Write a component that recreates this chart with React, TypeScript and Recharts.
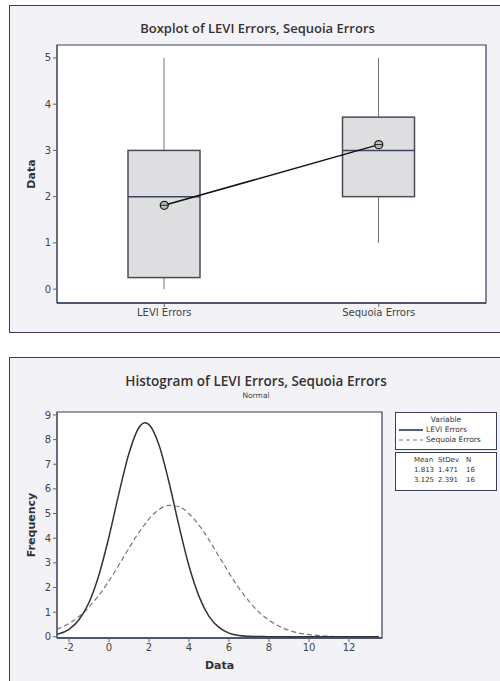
import React from "react";
import {
  Bar,
  ComposedChart,
  Line,
  LineChart,
  ReferenceArea,
  XAxis,
  YAxis,
  CartesianGrid,
} from "recharts";

// boxplot summary
const groups = ["LEVI Errors", "Sequoia Errors"];
const whiskerLow = [0, 1];
const q1 = [0.25, 2];
const median = [2, 3];
const q3 = [3, 3.72];
const whiskerHigh = [5, 5];
const means = [1.813, 3.125];

// fitted normal curves (frequency)
const curveX = [
  -2.6, -2.5, -2, -1.5, -1, -0.5, 0, 0.5, 1, 1.5, 1.8, 2, 2.5, 3, 3.5, 4, 4.5, 5, 5.5, 6, 6.5, 7, 7.5, 8,
  8.5, 9, 9.5, 10, 10.5, 11, 11.5, 12, 12.5, 13, 13.5,
];
const leviFit = [
  0.1, 0.12, 0.3, 0.69, 1.39, 2.52, 4.06, 5.83, 7.45, 8.49, 8.68, 8.61, 7.78, 6.27, 4.5, 2.87, 1.64, 0.83,
  0.38, 0.15, 0.05, 0.02, 0.01, 0, 0, 0, 0, 0, 0, 0, 0, 0, 0, 0, 0,
];
const sequoiaFit = [
  0.3, 0.34, 0.54, 0.82, 1.21, 1.69, 2.27, 2.92, 3.6, 4.24, 4.57, 4.78, 5.16, 5.33, 5.28, 4.99, 4.53, 3.93,
  3.26, 2.59, 1.97, 1.44, 1.0, 0.67, 0.43, 0.26, 0.15, 0.09, 0.05, 0.02, 0.01, 0.01, 0, 0, 0,
];
const stats = [
  { name: "LEVI Errors", mean: "1.813", sd: "1.471", n: "16" },
  { name: "Sequoia Errors", mean: "3.125", sd: "2.391", n: "16" },
];

const boxData = groups.map((name, i) => ({
  name,
  range: [whiskerLow[i], whiskerHigh[i]],
  q1: q1[i],
  median: median[i],
  q3: q3[i],
  mean: means[i],
}));

const fitData = curveX.map((x, i) => ({ x, levi: leviFit[i], sequoia: sequoiaFit[i] }));

const tickStyle = { fontSize: 10, fill: "#444", fontFamily: "DejaVu Sans" };
const axisTitle = { fontSize: 11, fontWeight: 700, fill: "#333", fontFamily: "DejaVu Sans", textAnchor: "middle" };
const frameColor = "#36405c";

function BoxShape(props: any) {
  const { x, y, width, height, payload } = props;
  const top = Math.min(y, y + height);
  const bottom = Math.max(y, y + height);
  const [lo, hi] = payload.range;
  const toPx = (v: number) => top + ((hi - v) / (hi - lo)) * (bottom - top);
  const cx = x + width / 2;
  const yq3 = toPx(payload.q3);
  const yq1 = toPx(payload.q1);
  const ymed = toPx(payload.median);
  return (
    <g>
      <line x1={cx} x2={cx} y1={top} y2={bottom} stroke="#777" strokeWidth={1} />
      <rect x={x} y={yq3} width={width} height={yq1 - yq3} fill="#dedde0" stroke="#4d4a55" strokeWidth={1.5} />
      <line x1={x} x2={x + width} y1={ymed} y2={ymed} stroke="#3a4560" strokeWidth={1.5} />
    </g>
  );
}

function MeanDot(props: any) {
  const { cx, cy } = props;
  return (
    <g>
      <circle cx={cx} cy={cy} r={4} fill="#bbb" stroke="#222" strokeWidth={1.3} />
      <line x1={cx - 4} x2={cx + 4} y1={cy} y2={cy} stroke="#222" strokeWidth={1} />
    </g>
  );
}

function FitLegend() {
  const small = { fontSize: 7.5, fontFamily: "DejaVu Sans", color: "#333" };
  return (
    <div style={{ position: "absolute", left: 395, top: 55, width: 102 }}>
      <div style={{ border: `1.5px solid ${frameColor}`, background: "#fff", height: 36, ...small }}>
        <div style={{ textAlign: "center", marginTop: 2 }}>Variable</div>
        <div style={{ display: "flex", alignItems: "center", marginTop: 1 }}>
          <svg width={30} height={8}>
            <line x1={3} x2={27} y1={4} y2={4} stroke="#1d2850" strokeWidth={1.5} />
          </svg>
          <span>{stats[0].name}</span>
        </div>
        <div style={{ display: "flex", alignItems: "center", marginTop: 1 }}>
          <svg width={30} height={8}>
            <line x1={3} x2={27} y1={4} y2={4} stroke="#777" strokeWidth={1.2} strokeDasharray="4 3" />
          </svg>
          <span>{stats[1].name}</span>
        </div>
      </div>
      <div
        style={{
          border: `1.5px solid ${frameColor}`,
          background: "#fff",
          marginTop: 2,
          height: 37,
          ...small,
          fontSize: 7,
        }}
      >
        <div style={{ display: "flex", marginTop: 3, paddingLeft: 18 }}>
          <span style={{ width: 24 }}>Mean</span>
          <span style={{ width: 28 }}>StDev</span>
          <span>N</span>
        </div>
        {stats.map((s) => (
          <div key={s.name} style={{ display: "flex", marginTop: 2, paddingLeft: 18 }}>
            <span style={{ width: 24 }}>{s.mean}</span>
            <span style={{ width: 28 }}>{s.sd}</span>
            <span>{s.n}</span>
          </div>
        ))}
      </div>
    </div>
  );
}

export default function App() {
  return (
    <div style={{ position: "absolute", left: 0, top: 0, width: 500, height: 681, background: "#fff", overflow: "hidden" }}>
      {/* panel frames */}
      <div
        style={{
          position: "absolute",
          left: 9,
          top: 5,
          width: 500,
          height: 326,
          background: "#f3f2f6",
          borderLeft: `1.5px solid ${frameColor}`,
          borderTop: `1.5px solid ${frameColor}`,
          borderBottom: `1.5px solid ${frameColor}`,
        }}
      />
      <div
        style={{
          position: "absolute",
          left: 9,
          top: 357,
          width: 500,
          height: 340,
          background: "#f3f2f6",
          borderLeft: `1.5px solid ${frameColor}`,
          borderTop: `1.5px solid ${frameColor}`,
        }}
      />

      {/* boxplot */}
      <div style={{ position: "absolute", left: 0, top: 0 }}>
        <div
          style={{
            position: "absolute",
            top: 19,
            width: 515,
            textAlign: "center",
            fontFamily: "Open Sans",
            fontWeight: 600,
            fontSize: 13,
            color: "#333",
          }}
        >
          Boxplot of LEVI Errors, Sequoia Errors
        </div>
        <ComposedChart width={500} height={340} data={boxData} margin={{ top: 45, right: 14, bottom: 7, left: 27 }}>
          <CartesianGrid fill="#fff" horizontal={false} vertical={false} />
          <XAxis
            dataKey="name"
            height={30}
            tick={tickStyle}
            tickSize={4}
            tickLine={{ stroke: "#666" }}
            axisLine={{ stroke: frameColor, strokeWidth: 1.5 }}
          />
          <YAxis
            domain={[-0.3, 5.28]}
            ticks={[0, 1, 2, 3, 4, 5]}
            width={30}
            tick={tickStyle}
            tickSize={4}
            tickLine={{ stroke: "#666" }}
            axisLine={{ stroke: "#555" }}
            label={{ value: "Data", angle: -90, position: "insideLeft", offset: 4, style: axisTitle }}
          />
          <ReferenceArea y1={-0.3} y2={5.28} fill="none" stroke={frameColor} strokeWidth={1.2} ifOverflow="visible" />
          <Bar dataKey="range" barSize={72} shape={<BoxShape />} isAnimationActive={false} />
          <Line
            dataKey="mean"
            stroke="#111"
            strokeWidth={1.5}
            dot={<MeanDot />}
            activeDot={false}
            isAnimationActive={false}
          />
        </ComposedChart>
      </div>

      {/* histogram fits */}
      <div style={{ position: "absolute", left: 0, top: 357 }}>
        <div
          style={{
            position: "absolute",
            top: 15,
            width: 512,
            textAlign: "center",
            fontFamily: "Open Sans",
            fontWeight: 600,
            fontSize: 13.5,
            color: "#333",
          }}
        >
          Histogram of LEVI Errors, Sequoia Errors
        </div>
        <div
          style={{
            position: "absolute",
            top: 34,
            width: 512,
            textAlign: "center",
            fontFamily: "DejaVu Sans",
            fontSize: 7.5,
            color: "#444",
          }}
        >
          Normal
        </div>
        <LineChart width={500} height={324} data={fitData} margin={{ top: 55, right: 118, bottom: 0, left: 27 }}>
          <CartesianGrid fill="#fff" horizontal={false} vertical={false} />
          <XAxis
            dataKey="x"
            type="number"
            domain={[-2.6, 13.65]}
            ticks={[-2, 0, 2, 4, 6, 8, 10, 12]}
            allowDataOverflow
            height={43}
            tick={tickStyle}
            tickSize={4}
            tickLine={{ stroke: "#666" }}
            axisLine={{ stroke: frameColor, strokeWidth: 1.5 }}
            label={{ value: "Data", position: "insideBottom", offset: 12, style: axisTitle }}
          />
          <YAxis
            domain={[-0.05, 9.12]}
            ticks={[0, 1, 2, 3, 4, 5, 6, 7, 8, 9]}
            allowDataOverflow
            width={30}
            tick={tickStyle}
            tickSize={4}
            tickLine={{ stroke: "#666" }}
            axisLine={{ stroke: "#555" }}
            label={{ value: "Frequency", angle: -90, position: "insideLeft", offset: 4, style: axisTitle }}
          />
          <ReferenceArea
            x1={-2.6}
            x2={13.65}
            y1={-0.05}
            y2={9.12}
            fill="none"
            stroke={frameColor}
            strokeWidth={1.2}
            ifOverflow="visible"
          />
          <Line
            type="monotone"
            dataKey="sequoia"
            stroke="#777"
            strokeWidth={1.2}
            strokeDasharray="5 3"
            dot={false}
            activeDot={false}
            isAnimationActive={false}
          />
          <Line
            type="monotone"
            dataKey="levi"
            stroke="#333"
            strokeWidth={1.5}
            dot={false}
            activeDot={false}
            isAnimationActive={false}
          />
        </LineChart>
        <FitLegend />
      </div>
    </div>
  );
}
